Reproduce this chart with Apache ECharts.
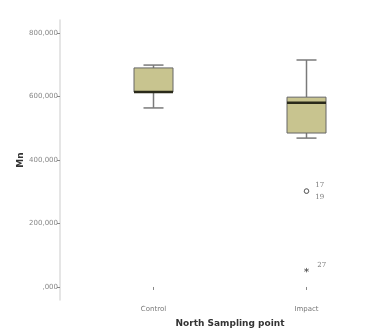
<!DOCTYPE html>
<html><head><meta charset="utf-8">
<script src="https://cdn.jsdelivr.net/npm/echarts@6/dist/echarts.min.js"></script>
<style>html,body{margin:0;padding:0;background:#fff}#c{width:377px;height:333px}</style>
</head><body><div id="c"></div>
<script>
// ---- data ----
var categories = ['Control', 'Impact'];
// [min, Q1, median, Q3, max]
var controlStats = [564000, 614000, 614000, 690000, 699000];
var impactStats = [469000, 485000, 580000, 598000, 715000];
// outliers: [category index, value, case label]
var outlierCircles = [[1, 302000, '17'], [1, 302000, '19']];
var outlierExtremes = [[1, 53000, '27']];
var yTickValues = [0, 200000, 400000, 600000, 800000];
var yTickLabels = [',000', '200,000', '400,000', '600,000', '800,000'];

var boxRows = [[0].concat(controlStats), [1].concat(impactStats)];

var chart = echarts.init(document.getElementById('c'));
chart.setOption({
  animation: false,
  backgroundColor: '#fff',
  grid: {left: 77, top: 20, width: 306, height: 280, containLabel: false, outerBoundsMode: 'none'},
  xAxis: {
    type: 'category', data: categories, boundaryGap: true,
    axisLine: {show: false},
    axisTick: {show: true, alignWithLabel: true, length: 3, lineStyle: {color: '#888'}},
    axisLabel: {color: '#777', fontSize: 7, margin: 6, fontFamily: 'DejaVu Sans'},
    name: 'North Sampling point', nameLocation: 'middle', nameGap: 19,
    nameTextStyle: {fontSize: 9, fontWeight: 'bold', color: '#333', fontFamily: 'DejaVu Sans'}
  },
  yAxis: {
    type: 'value', min: -41000, max: 841000, offset: 17,
    splitLine: {show: false},
    axisLine: {show: true, lineStyle: {color: '#ddd', width: 1.5}},
    axisTick: {show: true, length: 3, customValues: yTickValues, lineStyle: {color: '#888'}},
    axisLabel: {
      customValues: yTickValues, color: '#888', fontSize: 7, margin: 2, fontFamily: 'DejaVu Sans',
      formatter: function (v) { var i = yTickValues.indexOf(v); return i >= 0 ? yTickLabels[i] : ''; }
    },
    name: 'Mn', nameLocation: 'middle', nameGap: 35, nameRotate: 90, nameMoveOverlap: false,
    nameTextStyle: {fontSize: 9, fontWeight: 'bold', color: '#333', fontFamily: 'DejaVu Sans'}
  },
  series: [
    {
      type: 'custom',
      data: boxRows,
      encode: {x: 0, y: [1, 2, 3, 4, 5]},
      renderItem: function (params, api) {
        var c = api.value(0);
        var pMin = api.coord([c, api.value(1)]);
        var pQ1 = api.coord([c, api.value(2)]);
        var pMed = api.coord([c, api.value(3)]);
        var pQ3 = api.coord([c, api.value(4)]);
        var pMax = api.coord([c, api.value(5)]);
        var x = pMed[0];
        var hw = 19.5, cw = 10;
        var wStyle = {stroke: '#7a7a7a', lineWidth: 1.5};
        return {
          type: 'group',
          children: [
            {type: 'line', shape: {x1: x, y1: pMax[1], x2: x, y2: pQ3[1]}, style: wStyle},
            {type: 'line', shape: {x1: x, y1: pQ1[1], x2: x, y2: pMin[1]}, style: wStyle},
            {type: 'line', shape: {x1: x - cw, y1: pMax[1], x2: x + cw, y2: pMax[1]}, style: wStyle},
            {type: 'line', shape: {x1: x - cw, y1: pMin[1], x2: x + cw, y2: pMin[1]}, style: wStyle},
            {type: 'rect', shape: {x: x - hw, y: pQ3[1], width: hw * 2, height: pQ1[1] - pQ3[1]},
              style: {fill: '#c8c48f', stroke: '#666', lineWidth: 1}},
            {type: 'line', shape: {x1: x - hw, y1: pMed[1], x2: x + hw, y2: pMed[1]},
              style: {stroke: '#2a2a1a', lineWidth: 2.5}}
          ]
        };
      }
    },
    {
      type: 'scatter',
      data: outlierCircles,
      symbol: 'circle', symbolSize: 4.5,
      itemStyle: {color: '#fff', borderColor: '#555', borderWidth: 1},
      label: {
        show: true, fontSize: 7, color: '#555', fontFamily: 'DejaVu Serif',
        formatter: function (p) { return p.data[2]; },
        position: 'right'
      },
      labelLayout: function (params) {
        var idx = params.dataIndex;
        return {dx: 1, dy: idx === 0 ? -6 : 6};
      }
    },
    {
      type: 'scatter',
      data: outlierExtremes,
      symbol: 'path://M0,-5L0,5M-4.3,-2.5L4.3,2.5M-4.3,2.5L4.3,-2.5',
      symbolSize: 4.5,
      itemStyle: {color: 'none', borderColor: '#555', borderWidth: 1},
      label: {
        show: true, fontSize: 7, color: '#555', fontFamily: 'DejaVu Serif',
        formatter: function (p) { return p.data[2]; },
        position: 'right'
      },
      labelLayout: function () { return {dx: 1, dy: -5}; }
    }
  ]
});
</script>
</body></html>
